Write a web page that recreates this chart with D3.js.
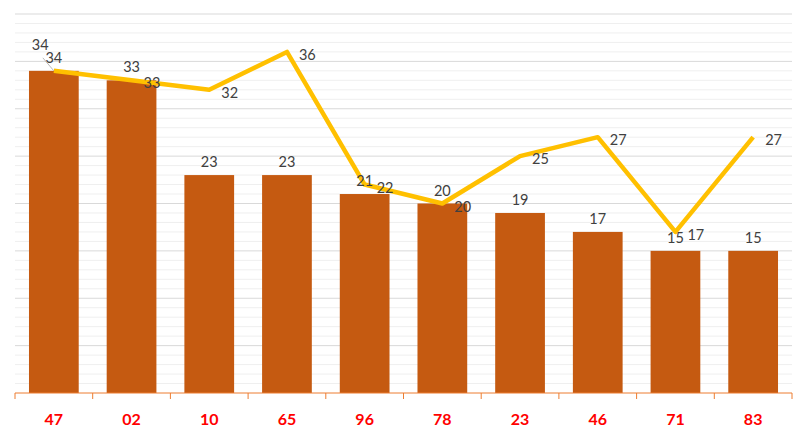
<!DOCTYPE html>
<html><head><meta charset="utf-8">
<script src="https://cdn.jsdelivr.net/npm/d3@7"></script>
<style>body{margin:0;background:#fff}svg{display:block}</style>
</head><body><svg id="c" width="807" height="438"></svg>
<script>
const categories = ["47","02","10","65","96","78","23","46","71","83"];
const barValues  = [34,33,23,23,21,20,19,17,15,15];
const lineValues = [34,33,32,36,22,20,25,27,17,27];

const svg = d3.select("#c");
const m = {l:15, r:15, t:14, b:45};
const W = 807, H = 438;
const x = d3.scaleBand().domain(categories).range([m.l, W-m.r]).paddingInner(0.36).paddingOuter(0.18);
const xb = d3.scaleBand().domain(categories).range([m.l, W-m.r]);
const y = d3.scaleLinear().domain([0,40]).range([H-m.b, m.t]);

// minor gridlines
svg.append("g").selectAll("line").data(d3.range(1,41).filter(v=>v%5!==0)).join("line")
  .attr("x1", m.l).attr("x2", W-m.r).attr("y1", d=>y(d)).attr("y2", d=>y(d))
  .attr("stroke", "#efefef").attr("stroke-width", 1);
// major gridlines
svg.append("g").selectAll("line").data(d3.range(5,41,5)).join("line")
  .attr("x1", m.l).attr("x2", W-m.r).attr("y1", d=>y(d)).attr("y2", d=>y(d))
  .attr("stroke", "#d9d9d9").attr("stroke-width", 1);

// bars
svg.append("g").selectAll("rect").data(categories).join("rect")
  .attr("x", d=>x(d)).attr("width", x.bandwidth())
  .attr("y", (d,i)=>y(barValues[i])).attr("height", (d,i)=>y(0)-y(barValues[i]))
  .attr("fill", "#c55a11");

// x axis
const ax = svg.append("g").attr("transform", `translate(0,${y(0)})`);
ax.append("line").attr("x1", m.l).attr("x2", W-m.r).attr("stroke", "#ed7d31").attr("stroke-width",1);
ax.selectAll("line.t").data(d3.range(categories.length+1)).join("line").attr("class","t")
  .attr("x1", i=>m.l + i*xb.step()).attr("x2", i=>m.l + i*xb.step())
  .attr("y1",0).attr("y2",6).attr("stroke","#ed7d31");
ax.selectAll("text").data(categories).join("text")
  .attr("x", d=>xb(d)+xb.bandwidth()/2).attr("y", 32)
  .attr("text-anchor","middle").attr("font-family","Lato, 'Open Sans', sans-serif")
  .attr("font-weight","bold").attr("font-size",16).attr("fill","#ff0000").text(d=>d);

// line
const cx = d => xb(d)+xb.bandwidth()/2;
svg.append("path").datum(categories)
  .attr("d", d3.line().x(d=>cx(d)).y((d,i)=>y(lineValues[i])))
  .attr("fill","none").attr("stroke","#ffc000").attr("stroke-width",4.5)
  .attr("stroke-linejoin","round");

const font = "Lato, 'Open Sans', sans-serif";
// bar labels
svg.append("g").selectAll("text").data(categories).join("text")
  .attr("x", d=>cx(d)).attr("y", (d,i)=>y(barValues[i])-8)
  .attr("text-anchor","middle").attr("font-family",font).attr("font-size",14.5)
  .attr("fill","#404040").text((d,i)=>barValues[i]);

// line labels (first one moved up-left with leader line)
svg.append("line").attr("x1", cx(categories[0])-11).attr("y1", y(lineValues[0])-13)
  .attr("x2", cx(categories[0])).attr("y2", y(lineValues[0]))
  .attr("stroke","#a6a6a6").attr("stroke-width",0.8);
svg.append("g").selectAll("text").data(categories).join("text")
  .attr("x", (d,i)=> i===0 ? cx(d)-22 : cx(d)+12)
  .attr("y", (d,i)=> i===0 ? y(lineValues[i])-21 : y(lineValues[i])+8)
  .attr("text-anchor","start").attr("font-family",font).attr("font-size",14.5)
  .attr("fill","#404040").text((d,i)=>lineValues[i]);
</script></body></html>
